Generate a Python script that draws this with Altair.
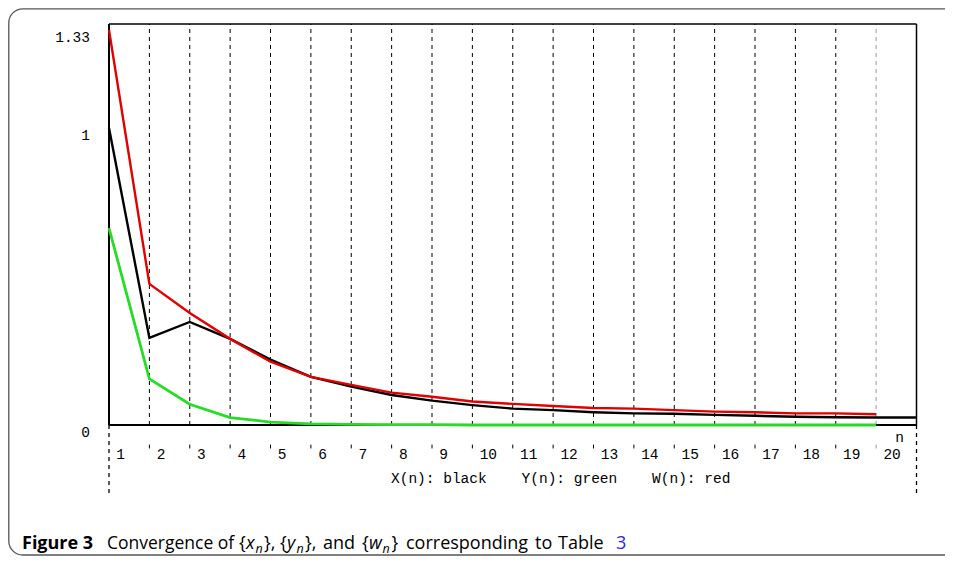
import altair as alt
import pandas as pd

# ---------------- data ----------------
n_black = list(range(1, 22))
x_black = [1.0, 0.293, 0.347, 0.29, 0.22, 0.162, 0.129, 0.101, 0.082, 0.067,
           0.055, 0.05, 0.043, 0.039, 0.038, 0.034, 0.031, 0.028, 0.026, 0.025, 0.025]
n_color = list(range(1, 21))
y_green = [0.663, 0.155, 0.07, 0.025, 0.01, 0.004, 0.002, 0.001, 0.001, 0.0,
           0.0, 0.0, 0.0, 0.0, 0.0, 0.0, 0.0, 0.0, 0.0, 0.0]
w_red = [1.33, 0.475, 0.377, 0.29, 0.213, 0.162, 0.135, 0.109, 0.095, 0.079,
         0.071, 0.064, 0.057, 0.055, 0.05, 0.045, 0.043, 0.039, 0.039, 0.036]
x_tick_values = list(range(1, 21))
x_tick_labels = [str(i) for i in x_tick_values]
y_tick_values = [0, 1, 1.33]
y_tick_labels = ["0", "1", "1.33"]
grid_values = list(range(2, 21))
x_min, x_max = 1, 21
y_min, y_max = 0, 1.35
NB = "\u00a0"
legend_text = ("X(n): black" + NB * 4 + "Y(n): green" + NB * 4 + "W(n): red")

# ---------------- scales ----------------
xs = alt.Scale(domain=[x_min, x_max], range=[101, 908.5], nice=False, zero=False)
ys = alt.Scale(domain=[y_min, y_max], range=[417, 16], nice=False, zero=False)

def X(field):
    return alt.X(field, type="quantitative", scale=xs, axis=None)

def Y(field):
    return alt.Y(field, type="quantitative", scale=ys, axis=None)

one = pd.DataFrame({"k": [0]})

# outer card
card = alt.Chart(one).mark_rect(filled=False, stroke="#555555", strokeWidth=1.3,
                                cornerRadius=14).encode(
    x=alt.value(0.8), x2=alt.value(960), y=alt.value(0.8), y2=alt.value(547))

# grid lines
grid_df = pd.DataFrame({"n": grid_values, "y0": y_min, "y1": y_max,
                        "c": ["g" if v < 20 else "last" for v in grid_values]})
grid = alt.Chart(grid_df).mark_rule(strokeDash=[4, 4], strokeWidth=1).encode(
    x=X("n"), y=Y("y0"), y2=alt.Y2("y1"),
    color=alt.Color("c:N", scale=alt.Scale(domain=["g", "last"], range=["#000000", "#9a9a9a"]), legend=None))

# small ticks below the axis
tick_df = pd.DataFrame({"n": grid_values, "a": -0.066, "b": -0.079,
                        "c": ["g" if v < 20 else "last" for v in grid_values]})
ticks = alt.Chart(tick_df).mark_rule(strokeWidth=1).encode(
    x=X("n"), y=Y("a"), y2=alt.Y2("b"),
    color=alt.Color("c:N", scale=alt.Scale(domain=["g", "last"], range=["#000000", "#9a9a9a"]), legend=None))

# dashed extensions under the axis at both ends
ext_df = pd.DataFrame({"n": [x_min, x_max], "a": 0, "b": -0.236})
ext = alt.Chart(ext_df).mark_rule(strokeDash=[4, 4], strokeWidth=1.3, color="black").encode(
    x=X("n"), y=Y("a"), y2=alt.Y2("b"))

# frame
vert_df = pd.DataFrame({"n": [x_min, x_max], "a": y_min, "b": y_max, "w": [2, 1.5]})
vert = alt.Chart(vert_df).mark_rule(color="black").encode(
    x=X("n"), y=Y("a"), y2=alt.Y2("b"), strokeWidth=alt.StrokeWidth("w:Q", scale=None))
hor_df = pd.DataFrame({"v": [y_min, y_max], "a": x_min, "b": x_max, "w": [2, 1.3]})
hor = alt.Chart(hor_df).mark_rule(color="black").encode(
    y=Y("v"), x=X("a"), x2=alt.X2("b"), strokeWidth=alt.StrokeWidth("w:Q", scale=None))

# series
green = alt.Chart(pd.DataFrame({"n": n_color, "v": y_green})).mark_line(
    color="#26dc26", strokeWidth=2.8).encode(x=X("n"), y=Y("v"))
black = alt.Chart(pd.DataFrame({"n": n_black, "v": x_black})).mark_line(
    color="#000000", strokeWidth=2.4).encode(x=X("n"), y=Y("v"))
red = alt.Chart(pd.DataFrame({"n": n_color, "v": w_red})).mark_line(
    color="#e00000", strokeWidth=2.4).encode(x=X("n"), y=Y("v"))

mono = "Liberation Mono"
# x tick labels
xl_df = pd.DataFrame({"n": [v + 0.18 for v in x_tick_values], "y": -0.101, "t": x_tick_labels})
xlabels = alt.Chart(xl_df).mark_text(font=mono, fontSize=14.5, align="left", baseline="middle",
                                     color="black").encode(x=X("n"), y=Y("y"), text="t:N")
nlab = alt.Chart(pd.DataFrame({"n": [20.58], "y": [-0.044], "t": ["n"]})).mark_text(
    font=mono, fontSize=14.5, align="center", baseline="middle", color="black").encode(
    x=X("n"), y=Y("y"), text="t:N")

# y tick labels
yl_df = pd.DataFrame({"v": y_tick_values, "t": y_tick_labels})
ylabels = alt.Chart(yl_df).mark_text(font=mono, fontSize=14.5, align="right", baseline="middle",
                                     dy=8, color="black").encode(
    x=alt.value(82), y=Y("v"), text="t:N")

# legend text
legend = alt.Chart(one).mark_text(font=mono, fontSize=14.5, align="left", baseline="middle",
                                  color="black", text=legend_text).encode(
    x=alt.value(383), y=alt.value(471))

# caption pieces (page x minus 8)
cap_font = "Open Sans"
cap_y = 541
N, I, S = ("normal", "normal", 18), ("normal", "italic", 18), ("normal", "italic", 12.5)
pieces = [
    ("Figure 3", 14, ("bold", "normal", 18), 0, "black"),
    ("Convergence of", 99, ("normal", "normal", 17.5), 0, "black"),
    ("{", 231, N, 0, "black"),
    ("x", 238, I, 0, "black"),
    ("n", 247.5, S, 4, "black"),
    ("}, {", 256, N, 0, "black"),
    ("y", 279, I, 0, "black"),
    ("n", 288.5, S, 4, "black"),
    ("},", 297, N, 0, "black"),
    ("and", 315, N, 0, "black"),
    ("{", 354, N, 0, "black"),
    ("w", 361, I, 0, "black"),
    ("n", 374.5, S, 4, "black"),
    ("}", 383.5, N, 0, "black"),
    ("corresponding", 398, N, 0, "black"),
    ("to", 527, N, 0, "black"),
    ("Table", 550, N, 0, "black"),
    ("3", 608, N, 0, "#2a2ae0"),
]
cap_layers = []
for txt, px, (fw, fst, fs), dy, col in pieces:
    cap_layers.append(
        alt.Chart(one).mark_text(font=cap_font, fontSize=fs, fontWeight=fw, fontStyle=fst,
                                 align="left", baseline="alphabetic", color=col, text=txt).encode(
            x=alt.value(px), y=alt.value(cap_y + dy)))

chart = alt.layer(card, grid, ticks, ext, vert, hor, green, black, red,
                  xlabels, nlab, ylabels, legend, *cap_layers).properties(
    width=937, height=548, autosize=alt.AutoSizeParams(type="none"), padding=0
).configure_view(stroke=None)

chart.save("out.html", embed_options={"renderer": "svg", "actions": False})
